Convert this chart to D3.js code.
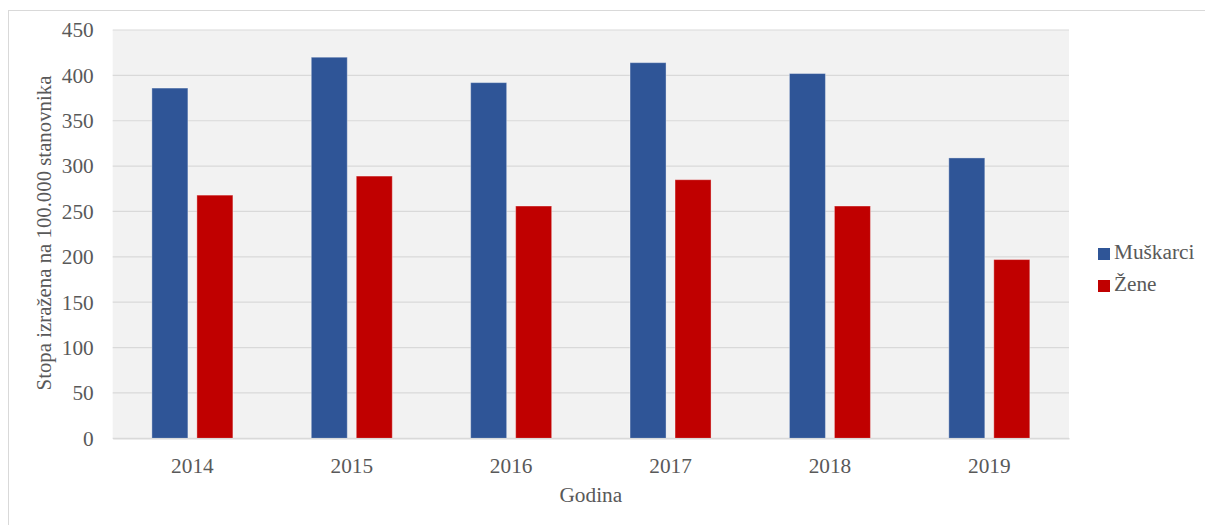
<!DOCTYPE html>
<html>
<head>
<meta charset="utf-8">
<script src="https://cdn.jsdelivr.net/npm/d3@7"></script>
<style>
  html, body { margin: 0; padding: 0; background: #fff; }
  svg { display: block; }
  text { font-family: "Liberation Serif", "Times New Roman", serif; fill: #595959; }
</style>
</head>
<body>
<svg id="chart"></svg>
<script>
// data
const years = ["2014", "2015", "2016", "2017", "2018", "2019"];
const seriesNames = ["Muškarci", "Žene"];
const muskarci = [386, 420, 392, 414, 402, 309];
const zene = [268, 289, 256, 285, 256, 197];
const yTicks = [0, 50, 100, 150, 200, 250, 300, 350, 400, 450];
const colors = ["#2f5597", "#c00000"];

const width = 1205;
const height = 525;
const fontSize = "21.3px";
const svg = d3.select("#chart").attr("width", width).attr("height", height);

// outer frame
svg.append("rect")
  .attr("x", 8.5).attr("y", 10.5)
  .attr("width", 1210).attr("height", 530)
  .attr("fill", "#fff")
  .attr("stroke", "#d9d9d9");

const plot = { left: 112.7, right: 1069, top: 30, bottom: 438.3 };

// scales
const x0 = d3.scaleBand().domain(years).range([plot.left, plot.right]);
const groupW = 81;
const x1 = d3.scaleBand().domain(seriesNames).range([0, groupW]).paddingInner(0.2);
const y = d3.scaleLinear().domain([0, 450]).range([plot.bottom, plot.top]);
const color = d3.scaleOrdinal(seriesNames, colors);

// plot background
svg.append("rect")
  .attr("x", plot.left).attr("y", plot.top)
  .attr("width", plot.right - plot.left).attr("height", plot.bottom - plot.top)
  .attr("fill", "#f2f2f2");

// gridlines
svg.append("g")
  .selectAll("line")
  .data(yTicks)
  .join("line")
  .attr("x1", plot.left).attr("x2", plot.right)
  .attr("y1", d => y(d)).attr("y2", d => y(d))
  .attr("stroke", "#d9d9d9")
  .attr("stroke-width", 1.2);

// y axis labels
const yAxis = svg.append("g")
  .attr("transform", `translate(${plot.left},0)`)
  .call(d3.axisLeft(y).tickValues(yTicks).tickSize(0).tickPadding(19));
yAxis.select(".domain").remove();
yAxis.selectAll("text")
  .style("font-size", fontSize)
  .style("font-family", "Liberation Serif, serif")
  .attr("fill", "#595959");

// bars
const rows = years.map((yr, i) => ({ year: yr, values: [muskarci[i], zene[i]] }));
const groups = svg.append("g")
  .selectAll("g")
  .data(rows)
  .join("g")
  .attr("transform", d => `translate(${x0(d.year) + x0.bandwidth() / 2 - groupW / 2},0)`);

groups.selectAll("rect")
  .data(d => d.values.map((v, j) => ({ name: seriesNames[j], value: v })))
  .join("rect")
  .attr("x", d => x1(d.name))
  .attr("y", d => y(d.value))
  .attr("width", x1.bandwidth())
  .attr("height", d => y(0) - y(d.value))
  .attr("fill", d => color(d.name))
  .attr("stroke", "rgba(255,255,255,0.35)")
  .attr("stroke-width", 1);

// x axis
const xAxis = svg.append("g")
  .attr("transform", `translate(0,${plot.bottom})`)
  .call(d3.axisBottom(x0).tickSize(0).tickPadding(20));
xAxis.select(".domain").attr("stroke", "#d9d9d9").attr("stroke-width", 1.5);
xAxis.selectAll("text")
  .style("font-size", fontSize)
  .style("font-family", "Liberation Serif, serif")
  .attr("fill", "#595959");

// axis titles
svg.append("text")
  .attr("x", (plot.left + plot.right) / 2)
  .attr("y", 502)
  .attr("text-anchor", "middle")
  .style("font-size", fontSize)
  .text("Godina");

svg.append("text")
  .attr("transform", `translate(51,233) rotate(-90)`)
  .attr("text-anchor", "middle")
  .style("font-size", "20.8px")
  .text("Stopa izražena na 100.000 stanovnika");

// legend
const legend = svg.append("g")
  .selectAll("g")
  .data(seriesNames)
  .join("g")
  .attr("transform", (d, i) => `translate(1098,${248 + i * 32})`);
legend.append("rect")
  .attr("width", 12).attr("height", 12)
  .attr("fill", d => color(d));
legend.append("text")
  .attr("x", 16).attr("y", 11)
  .style("font-size", fontSize)
  .text(d => d);
</script>
</body>
</html>
